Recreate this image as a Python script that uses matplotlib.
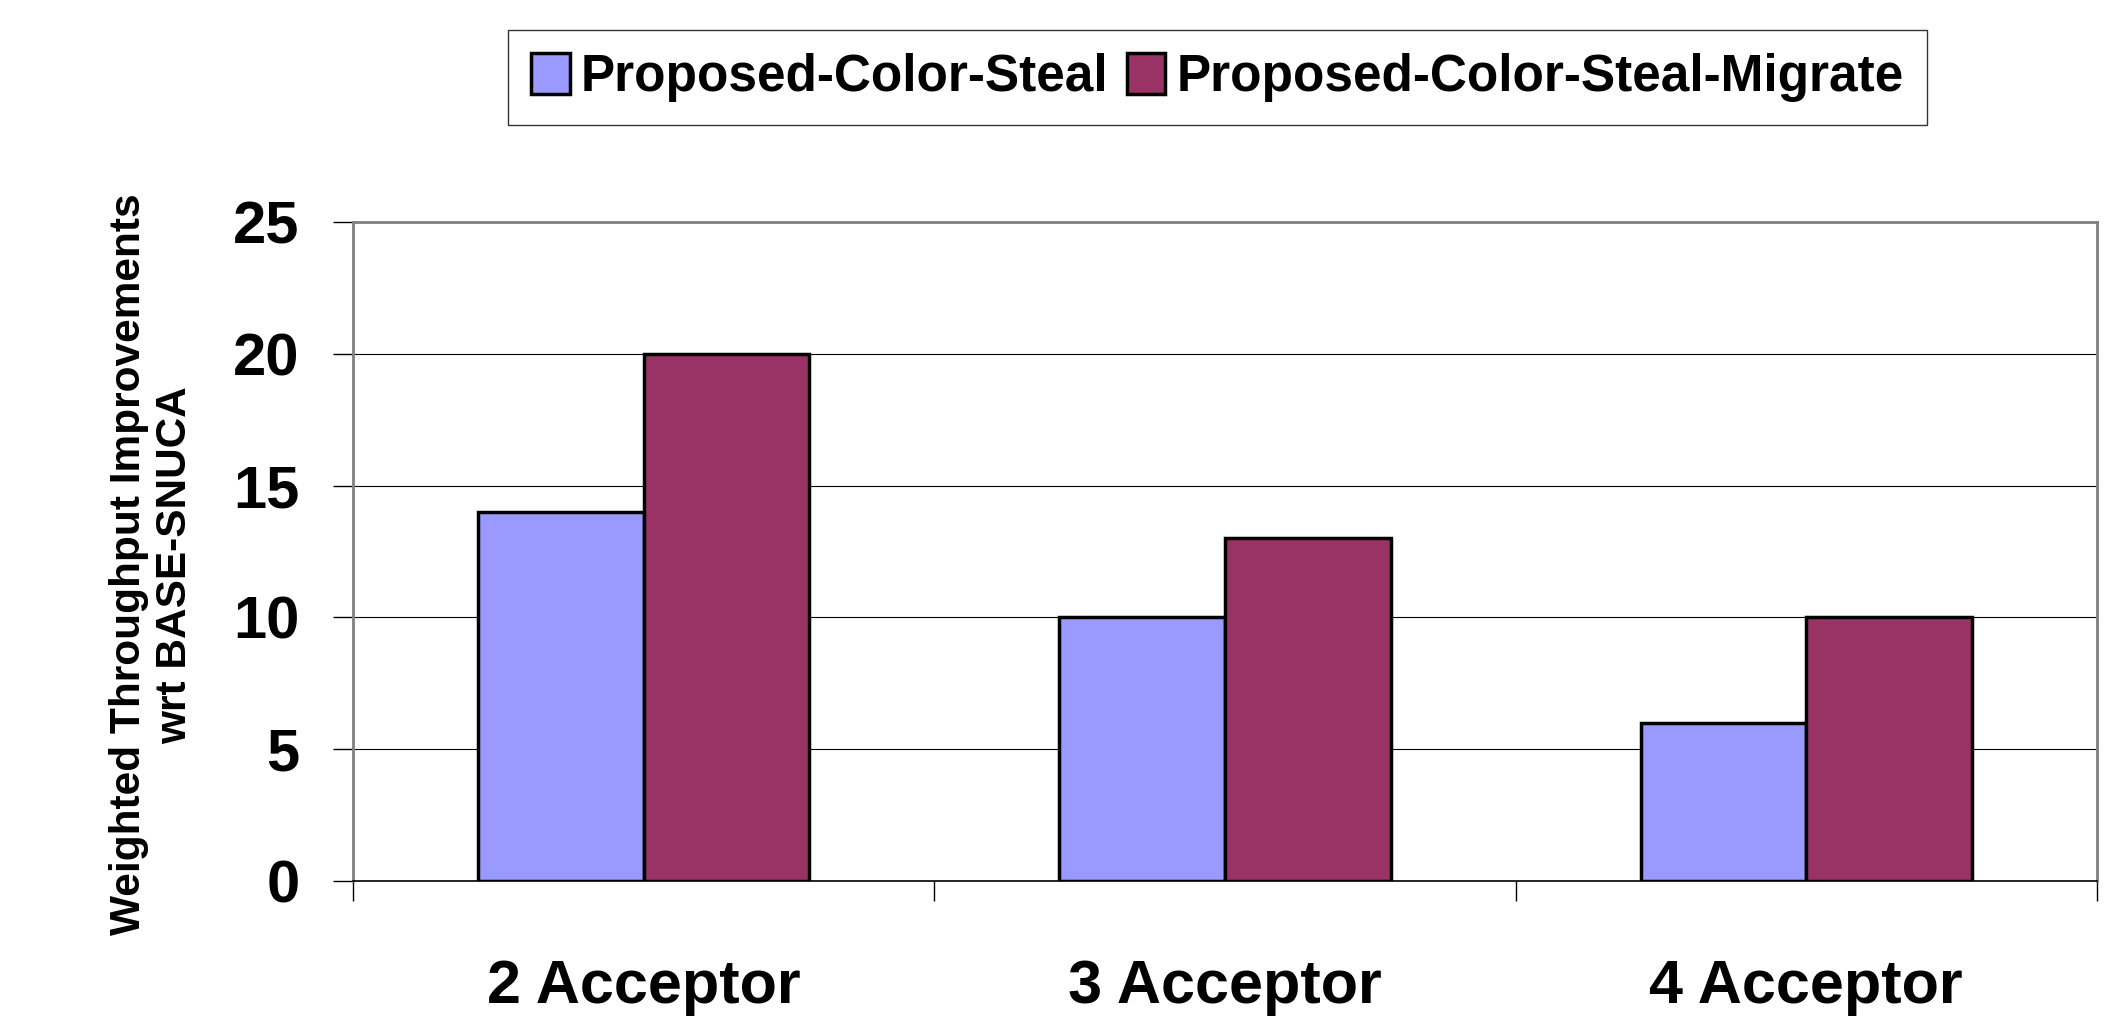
import matplotlib
matplotlib.use("Agg")
import numpy as np
import matplotlib.pyplot as plt

# values
categories = ["2 Acceptor", "3 Acceptor", "4 Acceptor"]
steal = [14, 10, 6]
steal_migrate = [20, 13, 10]
series_names = ["Proposed-Color-Steal", "Proposed-Color-Steal-Migrate"]
yticks = [0, 5, 10, 15, 20, 25]

plt.rcParams['font.family'] = ['Liberation Sans', 'DejaVu Sans']
plt.rcParams['font.weight'] = 'bold'

fig = plt.figure(figsize=(21.1, 10.18), dpi=100)
ax = fig.add_axes([0.1673, 0.1346, 0.8265, 0.6473])

x = np.arange(len(categories))
w = 0.285
b1 = ax.bar(x - w / 2, steal, w, color='#9999FF', edgecolor='black', linewidth=2.5,
            label=series_names[0], zorder=3)
b2 = ax.bar(x + w / 2, steal_migrate, w, color='#993366', edgecolor='black', linewidth=2.5,
            label=series_names[1], zorder=3)

ax.set_xlim(-0.5, 2.5)
ax.set_ylim(0, 25)
ax.set_yticks(yticks)
ax.set_yticklabels([str(t) for t in yticks], fontsize=43, fontweight='bold')
ax.tick_params(axis='y', length=14.4, width=1, direction='out', pad=24)

# category boundaries carry the tick marks, labels sit in the middle
ax.set_xticks([-0.5, 0.5, 1.5, 2.5])
ax.set_xticklabels([])
ax.set_xticks(x, minor=True)
ax.set_xticklabels(categories, minor=True, fontsize=44, fontweight='bold')
ax.tick_params(axis='x', which='major', length=14.4, width=1, direction='out')
ax.tick_params(axis='x', which='minor', length=0, pad=56)

ax.grid(axis='y', color='black', linewidth=0.8, zorder=0)
for s in ['left', 'right', 'top']:
    ax.spines[s].set_color('#808080')
    ax.spines[s].set_linewidth(2)
ax.spines['bottom'].set_color('black')
ax.spines['bottom'].set_linewidth(1.2)

ax.set_ylabel("Weighted Throughput Improvements\nwrt BASE-SNUCA", fontsize=30.5,
              fontweight='bold', linespacing=1.2)
ax.yaxis.set_label_coords(-0.0906, 0.48)

leg = fig.legend(handles=[b1, b2], loc='upper center', bbox_to_anchor=(0.577, 0.971),
                 ncol=2, frameon=True, fancybox=False, edgecolor='black',
                 handlelength=0.75, handleheight=0.85, handletextpad=0.22, columnspacing=0.35,
                 borderpad=0.45, borderaxespad=0, prop={'weight': 'bold', 'size': 37})
leg.get_frame().set_linewidth(1)

fig.savefig("out.png", dpi=100)
